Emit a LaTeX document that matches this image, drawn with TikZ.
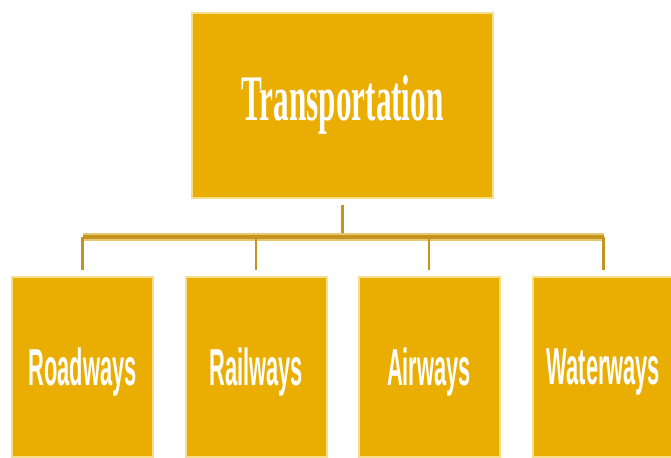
\documentclass[tikz,border=0pt]{standalone}
\usepackage{fontspec}
\usepackage{tikz}
\newfontfamily\titlefont{Liberation Serif}
\newfontfamily\itemfont{Liberation Sans}
\definecolor{boxgold}{RGB}{234,173,2}
\definecolor{edgegold}{RGB}{247,222,140}
\definecolor{linkgold}{RGB}{196,148,30}
\definecolor{barlight}{RGB}{232,200,110}

\begin{document}
\begin{tikzpicture}[x=0.5pt,y=-0.5pt]
    %
    % `topic' is the box on top, `mode' the four boxes below.
    % `link' is for the thin drops, `bar' for the long cross line.
    \tikzstyle{topic} = [draw=edgegold,line width=1pt,fill=boxgold,text=white,minimum width=150.5pt,minimum height=92.5pt,inner sep=0pt]
    \tikzstyle{mode} = [draw=edgegold,line width=1pt,fill=boxgold,text=white,text depth=0pt,minimum width=70.5pt,minimum height=90pt,inner sep=0pt]
    \tikzstyle{link} = [draw=linkgold,line width=1.1pt]
    \tikzstyle{bar} = [draw=barlight,line width=3.8pt]
    \tikzstyle{barmid} = [draw=linkgold,line width=1.8pt]
    \newcommand{\modetext}[1]{\itemfont\bfseries\fontsize{26}{30}\selectfont\scalebox{0.42}[1]{#1}}
    %
    \useasboundingbox (0,0) rectangle (671,457);
    %
    % Top box
    \node[topic] (transport) at (342.5,105) {\titlefont\bfseries\fontsize{32.5}{36}\selectfont\scalebox{0.48}[1]{Transportation}};
    %
    % Row of modes
    \node[mode] (roads) at (82.5,367) {\modetext{Roadways}};
    \node[mode] (rails) at (256,367) {\modetext{Railways}};
    \node[mode] (air) at (429,367) {\modetext{Airways}};
    \node[mode] (water) at (603.5,367) {\modetext{Waterways}};
    %
    % Connectors
    \coordinate (cross) at (343,237);
    \draw[link] ([yshift=-3pt]transport.south) -- (transport.south |- cross);
    \draw[bar] (roads.north |- cross) -- (water.north |- cross);
    \draw[barmid] (roads.north |- cross) -- (water.north |- cross);
    \draw[link] (roads.north |- cross) -- ([yshift=3pt]roads.north);
    \draw[link] (rails.north |- cross) -- ([yshift=3pt]rails.north);
    \draw[link] (air.north |- cross) -- ([yshift=3pt]air.north);
    \draw[link] (water.north |- cross) -- ([yshift=3pt]water.north);
    %
\end{tikzpicture}
\end{document}
